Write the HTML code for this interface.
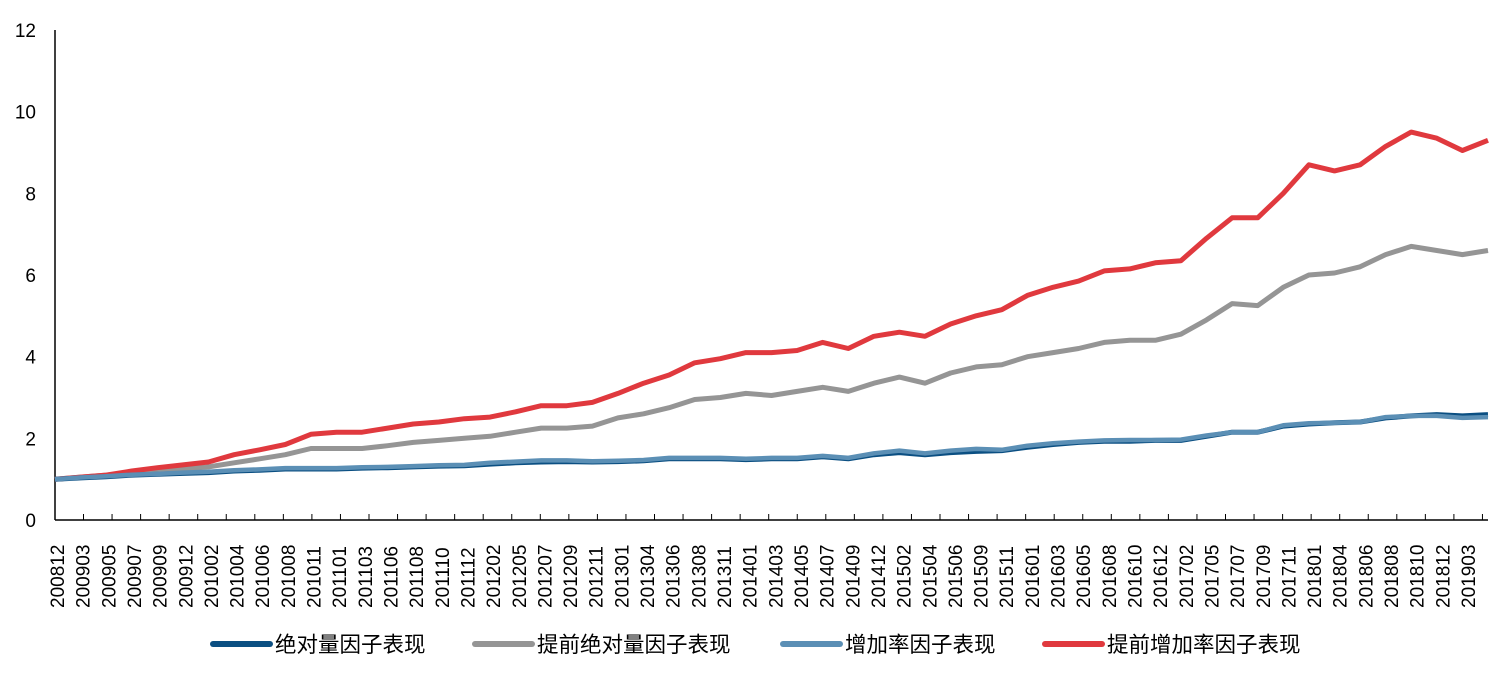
<!DOCTYPE html>
<html><head><meta charset="utf-8">
<style>
body{margin:0;background:#fff;}
svg text{font-family:"Liberation Sans","Noto Sans CJK SC",sans-serif;fill:#000;}
</style></head>
<body>
<svg id="chart" width="1506" height="669">
<g id="yaxis"></g>
<g id="xaxis"></g>
<g id="series"></g>
<g id="legend"></g>
</svg>
<script>
const categories=["200812","200903","200905","200907","200909","200912","201002","201004","201006","201008","201011","201101","201103","201106","201108","201110","201112","201202","201205","201207","201209","201211","201301","201304","201306","201308","201311","201401","201403","201405","201407","201409","201412","201502","201504","201506","201509","201511","201601","201603","201605","201608","201610","201612","201702","201705","201707","201709","201711","201801","201804","201806","201808","201810","201812","201903"];
const yTicks=[0,2,4,6,8,10,12];
const seriesNames=["绝对量因子表现","提前绝对量因子表现","增加率因子表现","提前增加率因子表现"];
const absVals=[1.0,1.03,1.06,1.1,1.12,1.14,1.16,1.2,1.22,1.25,1.25,1.25,1.27,1.28,1.3,1.32,1.33,1.37,1.4,1.42,1.43,1.42,1.43,1.45,1.5,1.5,1.5,1.48,1.5,1.5,1.55,1.5,1.6,1.65,1.6,1.65,1.68,1.7,1.78,1.85,1.9,1.93,1.93,1.95,1.95,2.05,2.15,2.15,2.3,2.35,2.38,2.4,2.5,2.55,2.58,2.55,2.58];
const preAbsVals=[1.0,1.05,1.1,1.15,1.2,1.25,1.3,1.4,1.5,1.6,1.75,1.75,1.75,1.82,1.9,1.95,2.0,2.05,2.15,2.25,2.25,2.3,2.5,2.6,2.75,2.95,3.0,3.1,3.05,3.15,3.25,3.15,3.35,3.5,3.35,3.6,3.75,3.8,4.0,4.1,4.2,4.35,4.4,4.4,4.55,4.9,5.3,5.25,5.7,6.0,6.05,6.2,6.5,6.7,6.6,6.5,6.6];
const growVals=[1.0,1.04,1.07,1.11,1.13,1.16,1.18,1.22,1.24,1.27,1.27,1.27,1.29,1.3,1.32,1.34,1.35,1.4,1.43,1.46,1.46,1.44,1.45,1.47,1.52,1.52,1.52,1.5,1.52,1.52,1.57,1.52,1.63,1.7,1.63,1.7,1.74,1.72,1.82,1.88,1.92,1.95,1.96,1.96,1.97,2.07,2.15,2.15,2.32,2.37,2.38,2.4,2.52,2.55,2.55,2.5,2.52];
const preGrowVals=[1.0,1.05,1.1,1.2,1.28,1.35,1.42,1.6,1.72,1.85,2.1,2.15,2.15,2.25,2.35,2.4,2.48,2.52,2.65,2.8,2.8,2.88,3.1,3.35,3.55,3.85,3.95,4.1,4.1,4.15,4.35,4.2,4.5,4.6,4.5,4.8,5.0,5.15,5.5,5.7,5.85,6.1,6.15,6.3,6.35,6.9,7.4,7.4,8.0,8.7,8.55,8.7,9.15,9.5,9.35,9.05,9.3];
const colors=["#0b4f82","#959595","#5b8fb5","#e0393e"];
const NS="http://www.w3.org/2000/svg";
const X0=55,X1=1488,Y0=520,Y1=30;
const nPts=absVals.length;
function xPt(i){return X0+(X1-X0)*i/(nPts-1);}
function xLab(i){return 57+(1468-57)*i/(categories.length-1);}
function y(v){return Y0-(Y0-Y1)*v/12;}
function mk(tag,attrs,parent){const e=document.createElementNS(NS,tag);for(const k in attrs)e.setAttribute(k,attrs[k]);parent.appendChild(e);return e;}
const ya=document.getElementById('yaxis'),xa=document.getElementById('xaxis'),sg=document.getElementById('series'),lg=document.getElementById('legend');
mk('line',{x1:X0,y1:Y1,x2:X0,y2:Y0,stroke:'#000','stroke-width':1.5},ya);
yTicks.forEach(v=>{
 const t=mk('text',{x:36,y:y(v)+7,'text-anchor':'end','font-size':19},ya);
 t.textContent=v;
 
 
});
mk('line',{x1:X0,y1:Y0,x2:X1,y2:Y0,stroke:'#000','stroke-width':1.5},xa);
for(let tx=X0+28.5;tx<=X1;tx+=28.55){mk('line',{x1:tx,y1:Y0,x2:tx,y2:Y0-6,stroke:'#000','stroke-width':1},xa);}
categories.forEach((c,i)=>{
 const lx=xLab(i);
 const t=mk('text',{x:0,y:0,transform:`translate(${lx+7},608) rotate(-90)`,'font-size':19},xa);
 t.textContent=c;
 
 
});
const all=[absVals,preAbsVals,growVals,preGrowVals];
const order=[1,3,0,2];
order.forEach(k=>{
 const pts=all[k].map((v,i)=>xPt(i).toFixed(1)+','+y(v).toFixed(1)).join(' ');
 const p=mk('polyline',{points:pts,fill:'none',stroke:colors[k],'stroke-width':k==2?4.5:5,'stroke-linejoin':'round'},sg);
 
 
});
const legX=[213,475,783,1045];
seriesNames.forEach((n,k)=>{
 const g=mk('g',{},lg);
 
 
 mk('line',{x1:legX[k],y1:644,x2:legX[k]+57,y2:644,stroke:colors[k],'stroke-width':6,'stroke-linecap':'round'},g);
 const t=mk('text',{x:legX[k]+62,y:652,'font-size':21.5},g);
 t.textContent=n;
});
</script>
</body></html>
